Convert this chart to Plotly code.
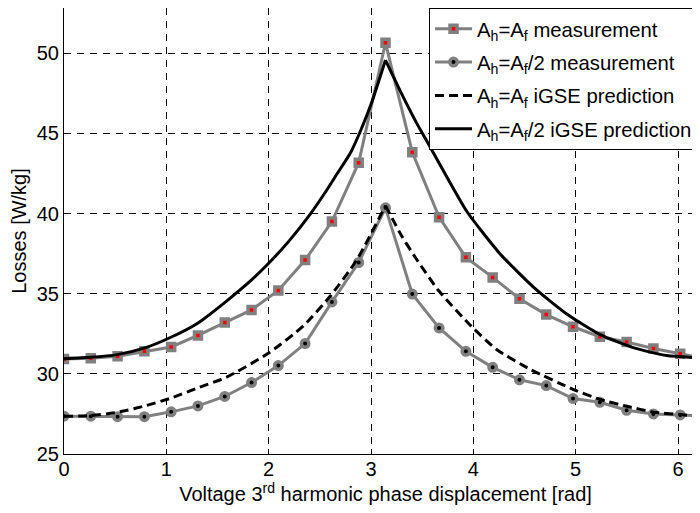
import plotly.graph_objects as go

# ---- data ----
x_meas = [0.0, 0.2618, 0.5236, 0.7854, 1.0472, 1.3090, 1.5708, 1.8326, 2.0944, 2.3562,
          2.6180, 2.8798, 3.1416, 3.4034, 3.6652, 3.9270, 4.1888, 4.4506, 4.7124, 4.9742,
          5.2360, 5.4978, 5.7596, 6.0214, 6.2832]
sq_meas = [30.93, 30.97, 31.10, 31.41, 31.68, 32.40, 33.20, 33.99, 35.21, 37.10,
           39.50, 43.18, 50.66, 43.83, 39.78, 37.27, 36.02, 34.69, 33.70, 32.94,
           32.32, 31.99, 31.58, 31.25, 30.93]
ci_meas = [27.36, 27.36, 27.33, 27.33, 27.63, 28.00, 28.59, 29.46, 30.52, 31.89,
           34.49, 36.95, 40.36, 34.98, 32.87, 31.41, 30.41, 29.63, 29.27, 28.46,
           28.23, 27.73, 27.50, 27.44, 27.36]

# iGSE prediction (Ah=Af/2, solid), rising branch and falling branch
x_solid_l = [0.0, 0.26, 0.52, 0.79, 1.05, 1.31, 1.57, 1.83, 2.00, 2.20, 2.41, 2.55,
             2.67, 2.80, 2.90, 3.01, 3.1416]
y_solid_l = [30.95, 31.03, 31.20, 31.62, 32.30, 33.18, 34.45, 35.85, 36.90, 38.30,
             40.00, 41.30, 42.50, 43.80, 45.20, 47.00, 49.58]
x_solid_r = [3.1416, 3.29, 3.45, 3.53, 3.74, 3.94, 4.26, 4.59, 4.92, 5.24, 5.57, 5.89,
             6.22, 6.2832]
y_solid_r = [49.58, 47.60, 45.60, 44.70, 42.30, 40.10, 37.50, 35.40, 33.70, 32.45,
             31.62, 31.14, 31.00, 30.98]

# iGSE prediction (Ah=Af, dashed), rising branch and falling branch
x_dash_l = [0.0, 0.26, 0.52, 0.79, 1.05, 1.31, 1.59, 2.00, 2.34, 2.60, 2.86, 3.1416]
y_dash_l = [27.35, 27.40, 27.60, 28.00, 28.50, 29.13, 29.80, 31.30, 33.00, 34.84, 37.10,
            40.50]
x_dash_r = [3.1416, 3.30, 3.44, 3.66, 3.98, 4.23, 4.56, 4.98, 5.24, 5.50, 5.76, 6.02,
            6.22, 6.2832]
y_dash_r = [40.50, 38.60, 37.20, 35.20, 32.97, 31.51, 30.27, 29.02, 28.40, 27.98, 27.61,
            27.46, 27.36, 27.35]

names = ["A<sub>h</sub>=A<sub>f</sub> measurement",
         "A<sub>h</sub>=A<sub>f</sub>/2 measurement",
         "A<sub>h</sub>=A<sub>f</sub> iGSE prediction",
         "A<sub>h</sub>=A<sub>f</sub>/2 iGSE prediction"]

y_ticks = [25, 30, 35, 40, 45, 50]
x_ticks = [0, 1, 2, 3, 4, 5, 6]

FONT = "Liberation Sans, Arial, sans-serif"
GRAY = "#808080"

fig = go.Figure()
fig.add_trace(go.Scatter(
    x=x_meas, y=sq_meas, mode="lines+markers", name=names[0], legendgroup="a",
    line=dict(color=GRAY, width=3),
    marker=dict(symbol="square", size=7, color="#ff0000", line=dict(color=GRAY, width=3.5))))
fig.add_trace(go.Scatter(
    x=x_meas, y=ci_meas, mode="lines+markers", name=names[1], legendgroup="b",
    line=dict(color=GRAY, width=3),
    marker=dict(symbol="circle", size=7.5, color="#000000", line=dict(color=GRAY, width=3.5))))
fig.add_trace(go.Scatter(
    x=x_dash_l, y=y_dash_l, mode="lines", name=names[2], legendgroup="c",
    line=dict(color="black", width=3, dash="9px,5px", shape="spline", smoothing=0.6)))
fig.add_trace(go.Scatter(
    x=x_dash_r, y=y_dash_r, mode="lines", name=names[2], legendgroup="c", showlegend=False,
    line=dict(color="black", width=3, dash="9px,5px", shape="spline", smoothing=0.6)))
fig.add_trace(go.Scatter(
    x=x_solid_l, y=y_solid_l, mode="lines", name=names[3], legendgroup="d",
    line=dict(color="black", width=3, shape="spline", smoothing=0.6)))
fig.add_trace(go.Scatter(
    x=x_solid_r, y=y_solid_r, mode="lines", name=names[3], legendgroup="d", showlegend=False,
    line=dict(color="black", width=3, shape="spline", smoothing=0.6)))

axis_common = dict(
    showline=True, linecolor="black", linewidth=1,
    ticks="inside", ticklen=5, tickcolor="black",
    showgrid=True, gridcolor="black", gridwidth=1, griddash="7px,6px",
    zeroline=False, tickfont=dict(family=FONT, size=20, color="black"),
)

fig.update_layout(
    width=700, height=513,
    margin=dict(l=56, r=1, t=0, b=67, autoexpand=False),
    paper_bgcolor="white", plot_bgcolor="white",
    font=dict(family=FONT, size=20, color="black"),
    showlegend=True,
    legend=dict(x=0.5677, y=1.0, xanchor="left", yanchor="top",
                bgcolor="white", bordercolor="black", borderwidth=1,
                font=dict(family=FONT, size=20.3, color="black"),
                itemwidth=37,
                traceorder="grouped", tracegroupgap=4),
    xaxis=dict(range=[0, 6.2832], tickvals=x_ticks, mirror="ticks",
               ticklabelstandoff=-3,
               title=dict(text="Voltage 3<sup>rd</sup> harmonic phase displacement [rad]",
                          font=dict(family=FONT, size=20), standoff=0),
               **axis_common),
    yaxis=dict(range=[25, 52.83], tickvals=y_ticks, mirror=False,
               title=dict(text="Losses [W/kg]", font=dict(family=FONT, size=20), standoff=4),
               **axis_common),
)

fig.write_html("out.html")
